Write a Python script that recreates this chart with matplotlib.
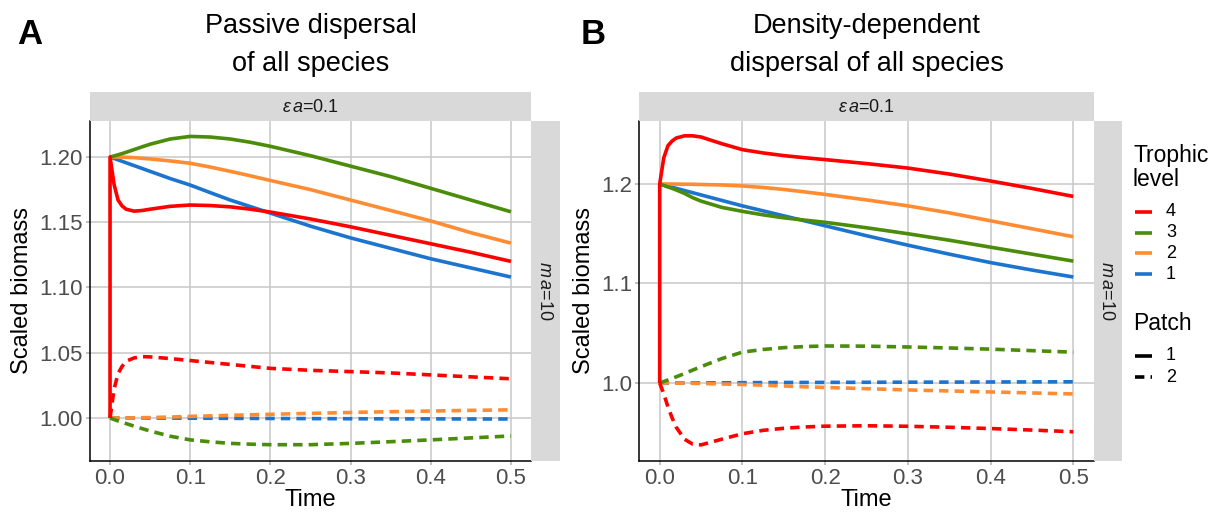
import matplotlib
matplotlib.use("Agg")
import matplotlib.pyplot as plt

plt.rcParams['font.family'] = ['Liberation Sans', 'DejaVu Sans']
plt.rcParams['mathtext.fontset'] = 'custom'
plt.rcParams['mathtext.rm'] = 'Liberation Sans'
plt.rcParams['mathtext.it'] = 'Liberation Sans:italic'

# ---- data ----
time = [0, 0.005, 0.01, 0.015, 0.02, 0.03, 0.04, 0.05, 0.075, 0.1,
        0.125, 0.15, 0.175, 0.2, 0.25, 0.3, 0.35, 0.4, 0.45, 0.5]
start_value = 1.0   # red patch-1 curve jumps from 1.0 to 1.2 at t=0

# panel A: passive dispersal
a_p1_lvl1 = [1.2, 1.1989, 1.1978, 1.1967, 1.1956, 1.1934, 1.1912, 1.189, 1.1835, 1.1785,
             1.1727, 1.167, 1.162, 1.157, 1.147, 1.138, 1.130, 1.122, 1.115, 1.108]
a_p1_lvl2 = [1.2, 1.2, 1.2, 1.1999, 1.1998, 1.1995, 1.199, 1.1985, 1.197, 1.1952,
             1.1923, 1.189, 1.1856, 1.182, 1.175, 1.167, 1.159, 1.151, 1.142, 1.134]
a_p1_lvl3 = [1.2, 1.2008, 1.2017, 1.2026, 1.2036, 1.2057, 1.2078, 1.2098, 1.2138, 1.2158,
             1.2153, 1.2138, 1.2113, 1.2082, 1.2010, 1.193, 1.185, 1.176, 1.167, 1.158]
a_p1_lvl4 = [1.2, 1.179, 1.167, 1.1625, 1.160, 1.1585, 1.159, 1.160, 1.1622, 1.1632,
             1.1628, 1.1618, 1.160, 1.1578, 1.1525, 1.1465, 1.140, 1.1335, 1.127, 1.120]
a_p2_lvl1 = [1.0, 1.0, 1.0, 1.0, 1.0, 1.0, 1.0, 0.9999, 0.9999, 0.9998,
             0.99975, 0.9997, 0.99965, 0.9996, 0.9995, 0.9994, 0.9993, 0.9993, 0.9992, 0.9992]
a_p2_lvl2 = [1.0, 1.0, 1.0, 1.0, 1.0, 1.0001, 1.0002, 1.0003, 1.0007, 1.0012,
             1.0016, 1.002, 1.0024, 1.0028, 1.0035, 1.0042, 1.0048, 1.0053, 1.0058, 1.0062]
a_p2_lvl3 = [1.0, 0.9988, 0.9977, 0.9967, 0.9957, 0.9937, 0.9918, 0.990, 0.986, 0.9832,
             0.9817, 0.9805, 0.9799, 0.9795, 0.9795, 0.9805, 0.9818, 0.9832, 0.9847, 0.9862]
a_p2_lvl4 = [1.0, 1.022, 1.034, 1.0395, 1.0435, 1.046, 1.047, 1.0468, 1.0455, 1.0440,
             1.0425, 1.041, 1.0395, 1.038, 1.0365, 1.0355, 1.0345, 1.033, 1.0315, 1.030]

# panel B: density-dependent dispersal
b_p1_lvl1 = [1.2, 1.1989, 1.1978, 1.1967, 1.1956, 1.1934, 1.1912, 1.189, 1.1835, 1.178,
             1.173, 1.168, 1.163, 1.158, 1.148, 1.1385, 1.1295, 1.121, 1.1135, 1.1065]
b_p1_lvl2 = [1.2, 1.2, 1.2, 1.2, 1.1999, 1.1998, 1.1997, 1.1995, 1.199, 1.198,
             1.1965, 1.1945, 1.1921, 1.1895, 1.184, 1.178, 1.171, 1.163, 1.155, 1.147]
b_p1_lvl3 = [1.2, 1.1985, 1.197, 1.1956, 1.194, 1.1905, 1.1862, 1.1828, 1.1765, 1.1725,
             1.169, 1.166, 1.1637, 1.1615, 1.156, 1.150, 1.1435, 1.1365, 1.1295, 1.1225]
b_p1_lvl4 = [1.2, 1.2265, 1.2385, 1.2432, 1.2462, 1.2484, 1.2484, 1.2472, 1.2405, 1.2345,
             1.2312, 1.2285, 1.2264, 1.2245, 1.2205, 1.2160, 1.2100, 1.2030, 1.1955, 1.1875]
b_p2_lvl1 = [1.0, 1.0, 1.0, 1.0, 1.0, 1.0, 1.0001, 1.0001, 1.0002, 1.0003,
             1.0004, 1.0005, 1.00055, 1.0006, 1.0007, 1.0008, 1.0009, 1.001, 1.0011, 1.0012]
b_p2_lvl2 = [1.0, 1.0, 1.0, 0.99995, 0.9999, 0.9998, 0.9997, 0.9995, 0.999, 0.9985,
             0.9978, 0.997, 0.9962, 0.9955, 0.9943, 0.993, 0.992, 0.991, 0.990, 0.989]
b_p2_lvl3 = [1.0, 1.0015, 1.003, 1.0046, 1.0062, 1.0095, 1.013, 1.0164, 1.0245, 1.031,
             1.0337, 1.0355, 1.0366, 1.0372, 1.0370, 1.0362, 1.0352, 1.0340, 1.0325, 1.031]
b_p2_lvl4 = [1.0, 0.989, 0.976, 0.965, 0.9555, 0.9435, 0.9385, 0.9378, 0.9435, 0.9490,
             0.9524, 0.9545, 0.9558, 0.9566, 0.9570, 0.9565, 0.9555, 0.9542, 0.9527, 0.9510]

levels = ['4', '3', '2', '1']
level_colors = {'4': '#FF0000', '3': '#4B8C0A', '2': '#FF8C33', '1': '#1C74CF'}
patches = ['1', '2']

x_ticks = [0.0, 0.1, 0.2, 0.3, 0.4, 0.5]
a_y_ticks = [1.00, 1.05, 1.10, 1.15, 1.20]
b_y_ticks = [1.0, 1.1, 1.2]

W, H = 1222, 518
fig = plt.figure(figsize=(W / 100, H / 100), dpi=100)


def rect(x0, y0, x1, y1):
    return [x0 / W, 1 - y1 / H, (x1 - x0) / W, (y1 - y0) / H]


lw = 2.6
dashed = (0, (2.6, 1.7))
grid_col = '#C8C8C8'
strip_col = '#D9D9D9'


def panel(box, top_box, right_box, series, yticks, yfmt, ylim):
    ax = fig.add_axes(rect(*box))
    for lvl, p, vals in series:
        t = time
        if lvl == '4' and p == '1':
            t = [0] + time
            vals = [start_value] + vals
        ax.plot(t, vals, color=level_colors[lvl], lw=lw,
                ls='-' if p == '1' else dashed,
                solid_capstyle='butt', dash_capstyle='butt',
                solid_joinstyle='round')
    ax.set_xlim(-0.025, 0.525)
    ax.set_ylim(*ylim)
    ax.set_xticks(x_ticks)
    ax.set_xticklabels(['%.1f' % v for v in x_ticks])
    ax.set_yticks(yticks)
    ax.set_yticklabels([yfmt % v for v in yticks])
    ax.grid(True, color=grid_col, lw=1.1)
    ax.set_axisbelow(True)
    for s in ['top', 'right']:
        ax.spines[s].set_visible(False)
    for s in ['left', 'bottom']:
        ax.spines[s].set_color('black')
        ax.spines[s].set_linewidth(1.1)
    ax.tick_params(labelsize=16, labelcolor='#4D4D4D', color='#B0B0B0',
                   length=3, width=1.1, pad=2)

    st = fig.add_axes(rect(*top_box))
    st.set_facecolor(strip_col)
    st.set_xticks([]); st.set_yticks([])
    for s in st.spines.values():
        s.set_visible(False)
    st.text(0.5, 0.45, r'$\varepsilon\,a$=0.1', ha='center', va='center',
            fontsize=13, color='#1A1A1A', transform=st.transAxes)

    sr = fig.add_axes(rect(*right_box))
    sr.set_facecolor(strip_col)
    sr.set_xticks([]); sr.set_yticks([])
    for s in sr.spines.values():
        s.set_visible(False)
    sr.text(0.45, 0.5, r'$m\,a$=10', ha='center', va='center', rotation=270,
            fontsize=13, color='#1A1A1A', transform=sr.transAxes)
    return ax


# draw order: 1, 2, 3, 4 so red sits on top
series_a = [('1', '2', a_p2_lvl1), ('2', '2', a_p2_lvl2), ('3', '2', a_p2_lvl3), ('4', '2', a_p2_lvl4),
            ('1', '1', a_p1_lvl1), ('2', '1', a_p1_lvl2), ('3', '1', a_p1_lvl3), ('4', '1', a_p1_lvl4)]
series_b = [('1', '2', b_p2_lvl1), ('2', '2', b_p2_lvl2), ('3', '2', b_p2_lvl3), ('4', '2', b_p2_lvl4),
            ('1', '1', b_p1_lvl1), ('2', '1', b_p1_lvl2), ('3', '1', b_p1_lvl3), ('4', '1', b_p1_lvl4)]

ax_a = panel((90, 121, 531, 461), (90, 92, 531, 121), (531, 121, 560, 461),
             series_a, a_y_ticks, '%.2f', (0.9670, 1.2276))
ax_b = panel((639, 121, 1094, 461), (639, 92, 1094, 121), (1094, 121, 1122, 461),
             series_b, b_y_ticks, '%.1f', (0.9216, 1.2633))

# overlay in pixel coordinates for titles and legend
ov = fig.add_axes([0, 0, 1, 1])
ov.set_xlim(0, W); ov.set_ylim(H, 0)
ov.axis('off')
ov.patch.set_alpha(0)

ov.text(17, 44, 'A', fontsize=25, fontweight='bold', va='baseline')
ov.text(581, 44, 'B', fontsize=25, fontweight='bold', va='baseline')
ov.text(310.5, 33, 'Passive dispersal', fontsize=19.5, ha='center', va='baseline')
ov.text(310.5, 71, 'of all species', fontsize=19.5, ha='center', va='baseline')
ov.text(866.5, 33, 'Density-dependent', fontsize=19.5, ha='center', va='baseline')
ov.text(866.5, 71, 'dispersal of all species', fontsize=19.5, ha='center', va='baseline')

ov.text(22, 291, 'Scaled biomass', fontsize=17, rotation=90, ha='center', va='center')
ov.text(584, 291, 'Scaled biomass', fontsize=17, rotation=90, ha='center', va='center')
ov.text(310.5, 500, 'Time', fontsize=17, ha='center', va='center')
ov.text(866.5, 500, 'Time', fontsize=17, ha='center', va='center')

# legend
ov.text(1133, 162, 'Trophic', fontsize=16.5, va='baseline')
ov.text(1133, 186, 'level', fontsize=16.5, va='baseline')
for i, lvl in enumerate(levels):
    y = 212 + i * 20.7
    ov.plot([1135, 1152], [y, y], color=level_colors[lvl], lw=lw, solid_capstyle='butt')
    ov.text(1166, y, lvl, fontsize=13, va='center')
ov.text(1133, 330, 'Patch', fontsize=16.5, va='baseline')
for i, p in enumerate(patches):
    y = 356 + i * 21
    ov.plot([1135, 1152], [y, y], color='black', lw=lw,
            ls='-' if p == '1' else dashed, solid_capstyle='butt')
    ov.text(1166, y, p, fontsize=13, va='center')

fig.savefig('out.png', dpi=100)
